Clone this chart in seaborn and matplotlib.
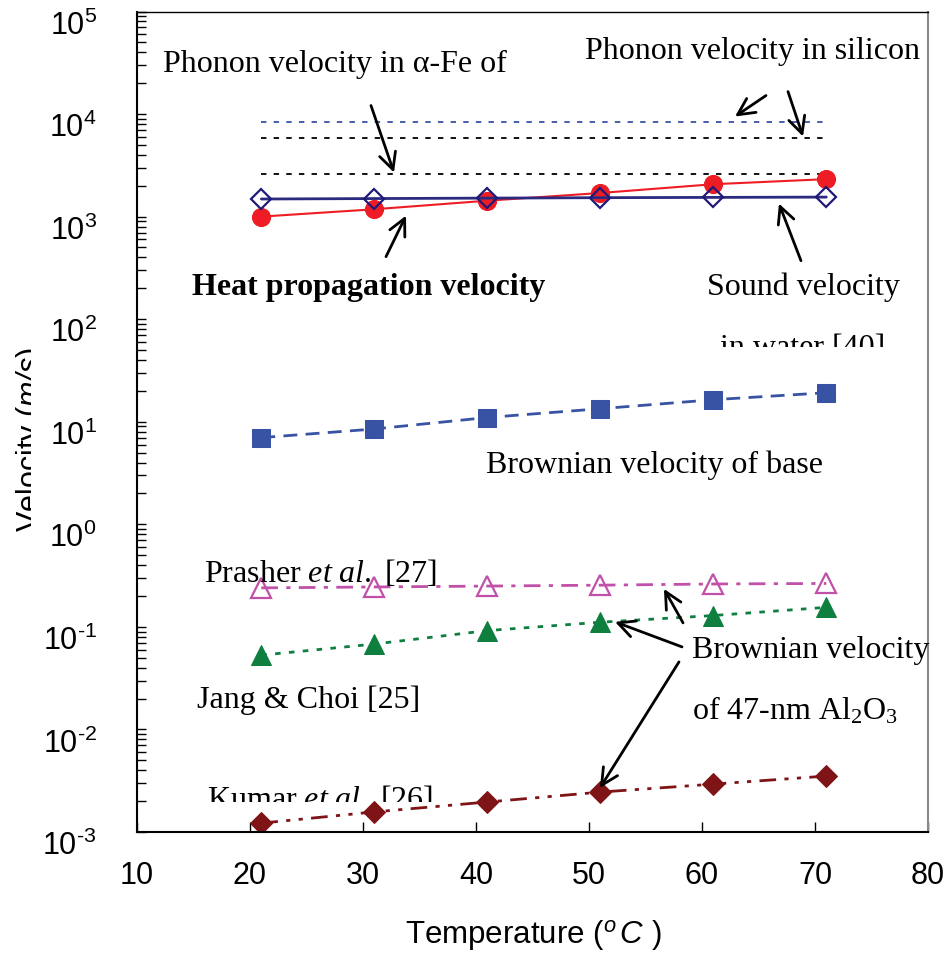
import numpy as np
import matplotlib
matplotlib.use("Agg")
import matplotlib.pyplot as plt
import seaborn as sns
from matplotlib.ticker import FixedLocator, FixedFormatter
from matplotlib.transforms import Bbox, ScaledTranslation

# data
temp = [21, 31, 41, 51, 61, 71]
heat_prop = [1000, 1180, 1430, 1700, 2070, 2320]
sound_water = [1485, 1500, 1515, 1530, 1540, 1550]
brown_base = [7.0, 8.5, 11.0, 13.4, 16.4, 19.2]
prasher = [0.24, 0.245, 0.25, 0.255, 0.262, 0.265]
jang_choi = [0.053, 0.068, 0.092, 0.111, 0.129, 0.155]
kumar = [0.00122, 0.00157, 0.00196, 0.00245, 0.00293, 0.00351]
phonon_span = [21, 71]
phonon_si_l = 8430
phonon_si_t = 5840
phonon_fe = 2600
decades = [-3, -2, -1, 0, 1, 2, 3, 4, 5]

sns.set_style("ticks")
plt.rcParams["font.family"] = ["Liberation Sans", "DejaVu Sans"]
plt.rcParams["mathtext.fontset"] = "custom"
plt.rcParams["mathtext.rm"] = "Liberation Serif"
plt.rcParams["mathtext.it"] = "Liberation Serif:italic"
plt.rcParams["mathtext.bf"] = "Liberation Serif:bold"
plt.rcParams["mathtext.sf"] = "Liberation Sans:italic"
for k in ["text.color", "axes.labelcolor", "xtick.color", "ytick.color", "axes.edgecolor"]:
    plt.rcParams[k] = "black"

fig = plt.figure(figsize=(9.46, 9.56), dpi=100)
ax = fig.add_axes([137 / 946, 1 - 832 / 956, 791 / 946, 820.5 / 956])

# horizontal phonon lines
sns.lineplot(x=phonon_span, y=[phonon_si_l] * 2, ax=ax, color="#3953a4", lw=1.3, linestyle=(0, (3, 4)))
sns.lineplot(x=phonon_span, y=[phonon_si_t] * 2, ax=ax, color="black", lw=1.3, linestyle=(0, (3, 4)))
sns.lineplot(x=phonon_span, y=[phonon_fe] * 2, ax=ax, color="black", lw=1.3, linestyle=(0, (3, 4)))

sns.lineplot(x=temp, y=heat_prop, ax=ax, color="#ee1c24", lw=1.5, marker="o", ms=13,
             mec="#ee1c24", mfc="#ee1c24", zorder=3)
sns.lineplot(x=temp, y=sound_water, ax=ax, color="#2b2a7e", lw=2, marker="D", ms=10,
             mec="#1f1a78", mfc="none", mew=1.6, zorder=4)
sns.lineplot(x=temp, y=brown_base, ax=ax, color="#3953a4", lw=2, marker="s", ms=13,
             mec="#3953a4", mfc="#3953a4", linestyle=(0, (5, 3)))
sns.lineplot(x=temp, y=prasher, ax=ax, color="#c050a8", lw=2, marker="^", ms=14,
             mec="#c050a8", mfc="none", mew=1.6, linestyle=(0, (6, 3, 1.5, 3)))
sns.lineplot(x=temp, y=jang_choi, ax=ax, color="#0e7f3e", lw=2, marker="^", ms=15,
             mec="#0e7f3e", mfc="#0e7f3e", linestyle=(0, (2, 3)))
sns.lineplot(x=temp, y=kumar, ax=ax, color="#7f1416", lw=2, marker="D", ms=11,
             mec="#7f1416", mfc="#7f1416", linestyle=(0, (6, 3, 1.5, 3, 1.5, 3)))

ax.set_yscale("log")
ax.set_xlim(10, 80)
ax.set_ylim(1e-3, 1e5)
ax.set_xticks([10, 20, 30, 40, 50, 60, 70, 80])
ax.yaxis.set_major_locator(FixedLocator([10.0 ** d for d in decades]))
ax.yaxis.set_major_formatter(FixedFormatter(
    [r"$\mathdefault{10^{%s}}$" % str(d).replace("-", "\u2010") for d in decades]))
ax.tick_params(axis="x", which="both", direction="in", length=7, width=1, labelsize=22, pad=21)
ax.tick_params(axis="y", which="both", direction="in", length=6.5, width=1, labelsize=22, pad=29)
ax.tick_params(axis="x", which="minor", bottom=False)
for lab in ax.get_yticklabels():
    lab.set_transform(lab.get_transform() + ScaledTranslation(0, -0.11, fig.dpi_scale_trans))

for s in ["left", "bottom"]:
    ax.spines[s].set_linewidth(1.5)
ax.spines["top"].set_linewidth(1)
ax.spines["right"].set_linewidth(1.5)
ax.spines["right"].set_color("#888888")

ax.set_xlabel(r"Temperature ($^{\mathsf{o}}\,\mathsf{C}$ )", fontsize=22.5)
ax.xaxis.set_label_coords(0.5006, -0.105)
ax.set_ylabel(r"Velocity ($\mathsf{m/s}$)", fontsize=22)
ax.yaxis.set_label_coords(-0.113, 0.478)
ax.yaxis.label.set_clip_box(Bbox([[0, 0], [30.5, 956]]))
ax.yaxis.label.set_clip_on(True)

# annotations
serif = dict(family="Liberation Serif", fontsize=23, transform=ax.transAxes, va="baseline",
             color="black")
ax.text(0.0329, 0.9268, "Phonon velocity in α-Fe of", **serif)
ax.text(0.5664, 0.9415, "Phonon velocity in silicon", **serif)
ax.text(0.0695, 0.6549, "Heat propagation velocity", fontweight="bold", **serif)
ax.text(0.7202, 0.6549, "Sound velocity", **serif)
t = ax.text(0.737, 0.5805, "in water [40]", **serif)
t.set_clip_on(True)
t.set_clip_box(Bbox([[0, 609], [946, 956]]))
ax.text(0.4412, 0.4378, "Brownian velocity of base", **serif)
ax.text(0.0847, 0.3052, r"Prasher $\mathit{et\ al.}$ [27]", **serif)
ax.text(0.0755, 0.1512, "Jang & Choi [25]", **serif)
t = ax.text(0.088, 0.0293, r"Kumar $\mathit{et\ al.}$ [26]", **serif)
t.set_clip_on(True)
t.set_clip_box(Bbox([[0, 154], [946, 956]]))
ax.text(0.7013, 0.2122, "Brownian velocity", **serif)
ax.text(0.7013, 0.1366, r"of 47-nm Al$_2$O$_3$", **serif)

arrows = [((0.2958, 0.8854), (0.3249, 0.8037)),
          ((0.3148, 0.7012), (0.3401, 0.7512)),
          ((0.7952, 0.8976), (0.7560, 0.8720)),
          ((0.8230, 0.9024), (0.8420, 0.8476)),
          ((0.8394, 0.6963), (0.8116, 0.7659)),
          ((0.6903, 0.2549), (0.6662, 0.2963)),
          ((0.6890, 0.2256), (0.6043, 0.2561)),
          ((0.6852, 0.2073), (0.5853, 0.0537))]
for tail, head in arrows:
    ax.annotate("", xy=head, xytext=tail, xycoords="axes fraction", textcoords="axes fraction",
                arrowprops=dict(arrowstyle="->,head_length=0.6,head_width=0.3", lw=2,
                                color="black", shrinkA=0, shrinkB=0, mutation_scale=20))

fig.savefig("out.png", dpi=100)
